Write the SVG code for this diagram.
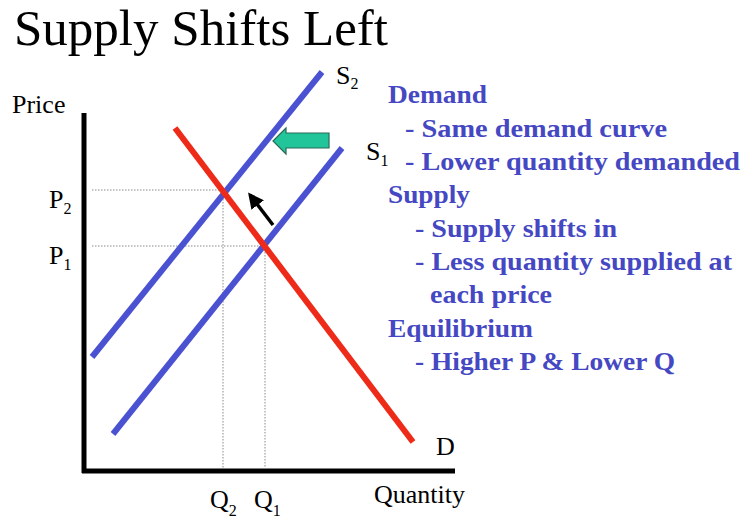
<svg xmlns="http://www.w3.org/2000/svg" width="743" height="518" viewBox="0 0 743 518">
<defs>
<style>
.lbl{font-family:"Liberation Serif","Times New Roman",serif;fill:#000}
.sub{font-family:"Liberation Serif","Times New Roman",serif;fill:#000;font-size:16px}
.bt{font-family:"Liberation Serif","Times New Roman",serif;font-weight:bold;fill:#4548c2;font-size:26px}
.dot{stroke:#8a8a8a;stroke-width:1;stroke-dasharray:1.5 1.5;fill:none}
.sup{stroke:#4b52d2;stroke-width:6;fill:none}
.dem{stroke:#ee2a18;stroke-width:6;fill:none}
.axis{stroke:#000;stroke-width:5;fill:none}
</style>
<marker id="ah" viewBox="0 0 10 10" refX="8" refY="5" markerWidth="4.5" markerHeight="4.5" orient="auto" markerUnits="strokeWidth">
<path d="M0,0 L10,5 L0,10 z" fill="#000"/>
</marker>
</defs>
<rect width="743" height="518" fill="#fff"/>
<text class="lbl" x="14" y="45" font-size="51">Supply Shifts Left</text>

<g id="axes">
<line class="axis" x1="84" y1="113" x2="84" y2="473"/>
<line class="axis" x1="82" y1="471" x2="455" y2="471"/>
<text class="lbl" x="12" y="113" font-size="26">Price</text>
<text class="lbl" x="374" y="503" font-size="26">Quantity</text>
</g>

<g id="guides">
<line class="dot" x1="92" y1="190" x2="223" y2="190"/>
<line class="dot" x1="223" y1="190" x2="223" y2="468"/>
<line class="dot" x1="92" y1="246" x2="265" y2="246"/>
<line class="dot" x1="265" y1="246" x2="265" y2="468"/>
</g>

<g id="curves">
<g id="S2"><line class="sup" x1="92" y1="357" x2="322" y2="72"/></g>
<g id="S1"><line class="sup" x1="113" y1="434" x2="342" y2="148"/></g>
<g id="D"><line class="dem" x1="175" y1="128" x2="413" y2="442"/></g>
</g>

<g id="connectors">
<line x1="273" y1="225" x2="250" y2="195" stroke="#000" stroke-width="3.5" marker-end="url(#ah)"/>
<path d="M273,141 L286,128 L286,133 L329,133 L329,148 L286,148 L286,154 Z" fill="#22c49a" stroke="#2b6a58" stroke-width="1.2"/>
</g>

<g id="labels">
<text class="lbl" x="49" y="208" font-size="26">P<tspan class="sub" dy="6">2</tspan></text>
<text class="lbl" x="49" y="264" font-size="26">P<tspan class="sub" dy="6">1</tspan></text>
<text class="lbl" x="210" y="508" font-size="26">Q<tspan class="sub" dy="8">2</tspan></text>
<text class="lbl" x="254" y="508" font-size="26">Q<tspan class="sub" dy="8">1</tspan></text>
<text class="lbl" x="336" y="84" font-size="26">S<tspan class="sub" dy="5">2</tspan></text>
<text class="lbl" x="366" y="160" font-size="26">S<tspan class="sub" dy="6">1</tspan></text>
<text class="lbl" x="436" y="455" font-size="26">D</text>
</g>

<g id="notes">
<text class="bt" x="388" y="103" textLength="99" lengthAdjust="spacingAndGlyphs">Demand</text>
<text class="bt" x="405" y="137" textLength="262" lengthAdjust="spacingAndGlyphs">- Same demand curve</text>
<text class="bt" x="405" y="170" textLength="335" lengthAdjust="spacingAndGlyphs">- Lower quantity demanded</text>
<text class="bt" x="388" y="203" textLength="82" lengthAdjust="spacingAndGlyphs">Supply</text>
<text class="bt" x="415" y="237" textLength="202" lengthAdjust="spacingAndGlyphs">- Supply shifts in</text>
<text class="bt" x="415" y="270" textLength="317" lengthAdjust="spacingAndGlyphs">- Less quantity supplied at</text>
<text class="bt" x="430" y="303" textLength="122" lengthAdjust="spacingAndGlyphs">each price</text>
<text class="bt" x="388" y="337" textLength="145" lengthAdjust="spacingAndGlyphs">Equilibrium</text>
<text class="bt" x="415" y="370" textLength="260" lengthAdjust="spacingAndGlyphs">- Higher P &amp; Lower Q</text>
</g>
</svg>
